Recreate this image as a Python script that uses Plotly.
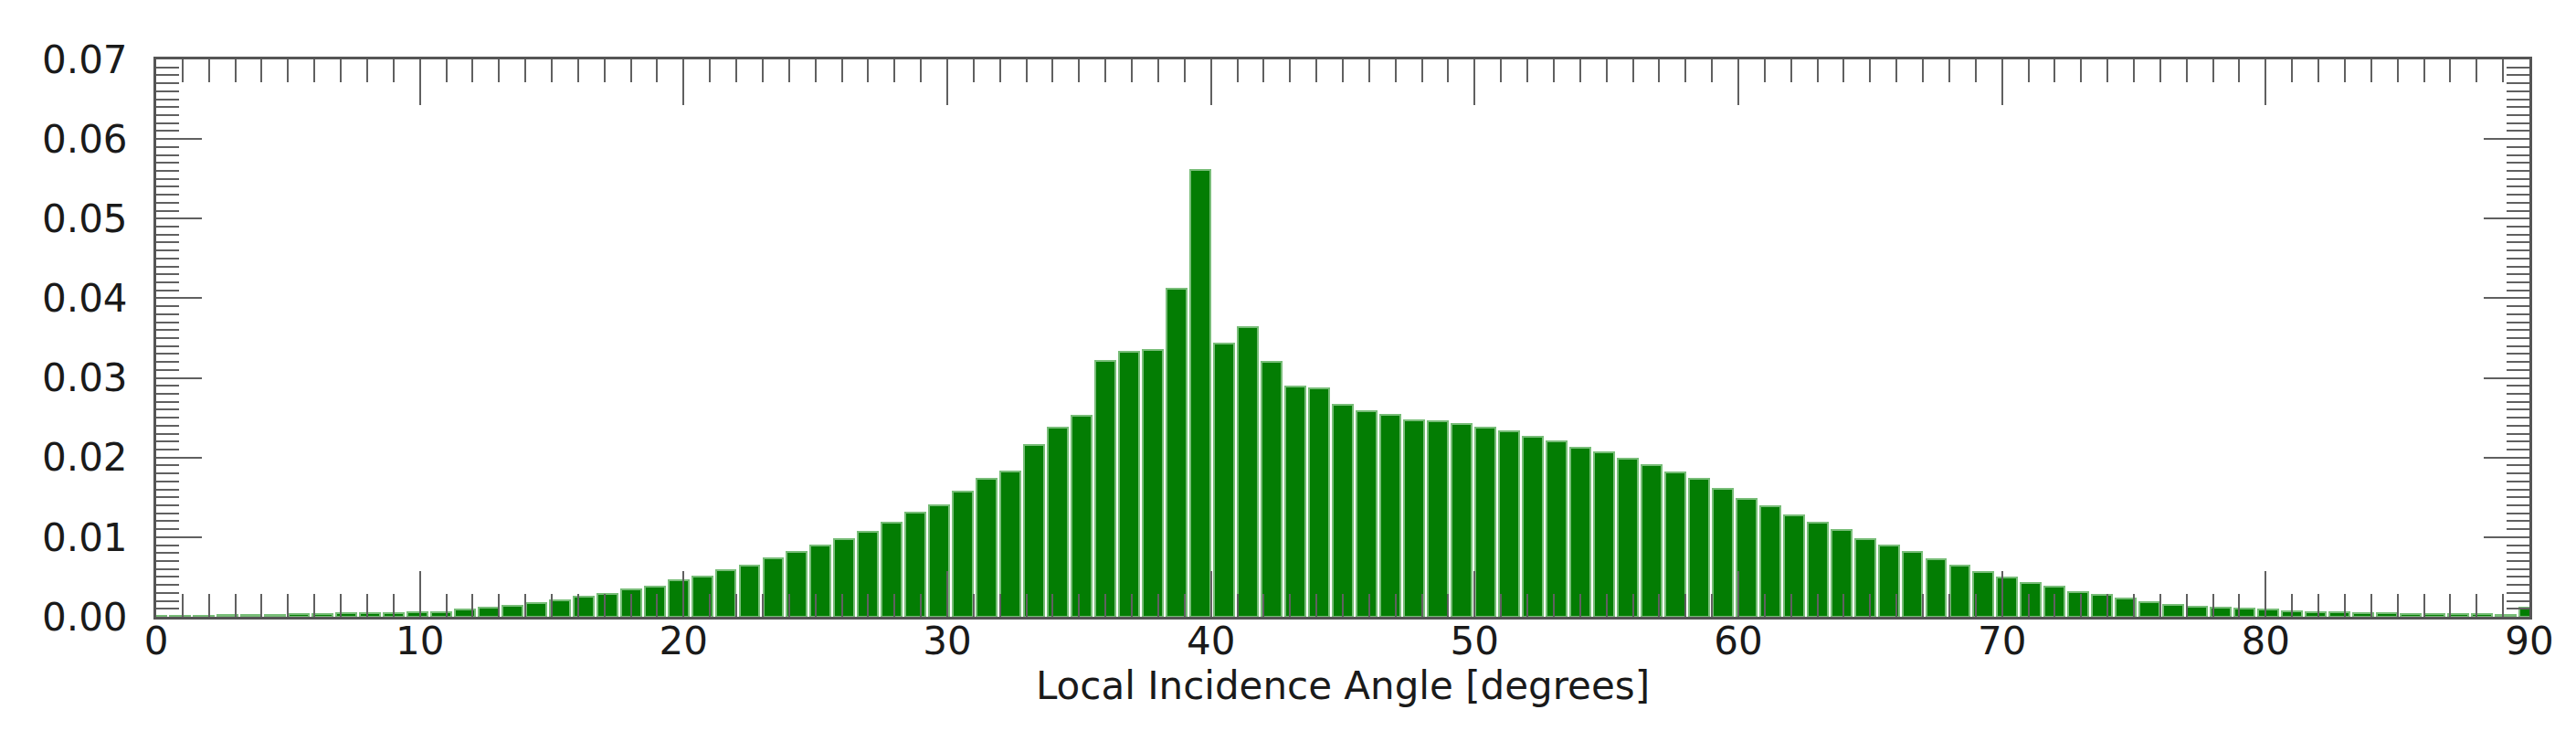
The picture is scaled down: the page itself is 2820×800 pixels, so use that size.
import plotly.graph_objects as go

# Histogram bin centres (degrees) and normalised frequencies
angles = [
    0.0, 0.9, 1.8, 2.7, 3.6, 4.5, 5.4, 6.3, 7.2, 8.1,
    9.0, 9.9, 10.8, 11.7, 12.6, 13.5, 14.4, 15.3, 16.2, 17.1,
    18.0, 18.9, 19.8, 20.7, 21.6, 22.5, 23.4, 24.3, 25.2, 26.1,
    27.0, 27.9, 28.8, 29.7, 30.6, 31.5, 32.4, 33.3, 34.2, 35.1,
    36.0, 36.9, 37.8, 38.7, 39.6, 40.5, 41.4, 42.3, 43.2, 44.1,
    45.0, 45.9, 46.8, 47.7, 48.6, 49.5, 50.4, 51.3, 52.2, 53.1,
    54.0, 54.9, 55.8, 56.7, 57.6, 58.5, 59.4, 60.3, 61.2, 62.1,
    63.0, 63.9, 64.8, 65.7, 66.6, 67.5, 68.4, 69.3, 70.2, 71.1,
    72.0, 72.9, 73.8, 74.7, 75.6, 76.5, 77.4, 78.3, 79.2, 80.1,
    81.0, 81.9, 82.8, 83.7, 84.6, 85.5, 86.4, 87.3, 88.2, 89.1,
    90.0,
]

frequency = [
    0.0001, 0.0001, 0.0001, 0.0002, 0.0002, 0.0002, 0.0003, 0.0004, 0.0005, 0.0005,
    0.0005, 0.0006, 0.0006, 0.0009, 0.0012, 0.0014, 0.0017, 0.0021, 0.0025, 0.0029,
    0.0034, 0.0038, 0.0046, 0.0051, 0.0059, 0.0064, 0.0073, 0.0081, 0.0089, 0.0098,
    0.0107, 0.0118, 0.0131, 0.0140, 0.0157, 0.0173, 0.0182, 0.0216, 0.0238, 0.0253,
    0.0321, 0.0333, 0.0335, 0.0412, 0.0561, 0.0343, 0.0364, 0.0320, 0.0289, 0.0287,
    0.0266, 0.0258, 0.0254, 0.0247, 0.0246, 0.0242, 0.0238, 0.0233, 0.0226, 0.0220,
    0.0212, 0.0206, 0.0199, 0.0190, 0.0181, 0.0173, 0.0161, 0.0148, 0.0139, 0.0127,
    0.0118, 0.0109, 0.0098, 0.0089, 0.0081, 0.0072, 0.0064, 0.0056, 0.0049, 0.0043,
    0.0038, 0.0031, 0.0027, 0.0023, 0.0018, 0.0015, 0.0013, 0.0011, 0.0010, 0.0009,
    0.0007, 0.0006, 0.0006, 0.0005, 0.0005, 0.0004, 0.0004, 0.0003, 0.0003, 0.0002,
    0.0011,
]

x_ticks = [0, 10, 20, 30, 40, 50, 60, 70, 80, 90]
y_ticks = [0.00, 0.01, 0.02, 0.03, 0.04, 0.05, 0.06, 0.07]
y_tick_text = ["0.00", "0.01", "0.02", "0.03", "0.04", "0.05", "0.06", "0.07"]
x_title = "Local Incidence Angle [degrees]"

FONT = "DejaVu Sans"
AXIS_COLOR = "#555555"
TICK_COLOR = "#606060"
TEXT_COLOR = "#1a1a1a"

fig = go.Figure()
fig.add_trace(go.Bar(
    x=angles,
    y=frequency,
    width=0.76,
    marker=dict(color="#037d03", line=dict(color="#78bd78", width=2)),
    showlegend=False,
))

fig.update_layout(
    width=2820,
    height=800,
    margin=dict(l=163, r=59, t=57, b=133),
    paper_bgcolor="white",
    plot_bgcolor="white",
    font=dict(family=FONT, size=42, color=TEXT_COLOR),
    bargap=0,
)

fig.update_xaxes(
    range=[0, 90],
    tickmode="array",
    tickvals=x_ticks,
    ticktext=[str(v) for v in x_ticks],
    ticks="inside",
    ticklen=50,
    tickwidth=2,
    tickcolor=TICK_COLOR,
    minor=dict(dtick=1, tick0=0, ticks="inside", ticklen=25, tickwidth=2, tickcolor=TICK_COLOR),
    showline=True,
    linewidth=3,
    linecolor=AXIS_COLOR,
    mirror="ticks",
    showgrid=False,
    zeroline=False,
    tickfont=dict(family=FONT, size=42, color=TEXT_COLOR),
    ticklabelstandoff=-12,
    title=dict(text=x_title, font=dict(family=FONT, size=42, color=TEXT_COLOR), standoff=0),
)

fig.update_yaxes(
    range=[0, 0.07],
    tickmode="array",
    tickvals=y_ticks,
    ticktext=y_tick_text,
    ticks="inside",
    ticklen=50,
    tickwidth=2,
    tickcolor=TICK_COLOR,
    minor=dict(dtick=0.001, tick0=0, ticks="inside", ticklen=25, tickwidth=2, tickcolor=TICK_COLOR),
    showline=True,
    linewidth=3,
    linecolor=AXIS_COLOR,
    mirror="ticks",
    showgrid=False,
    zeroline=False,
    tickfont=dict(family=FONT, size=42, color=TEXT_COLOR),
    ticklabelstandoff=20,
)

fig.write_html("out.html")
